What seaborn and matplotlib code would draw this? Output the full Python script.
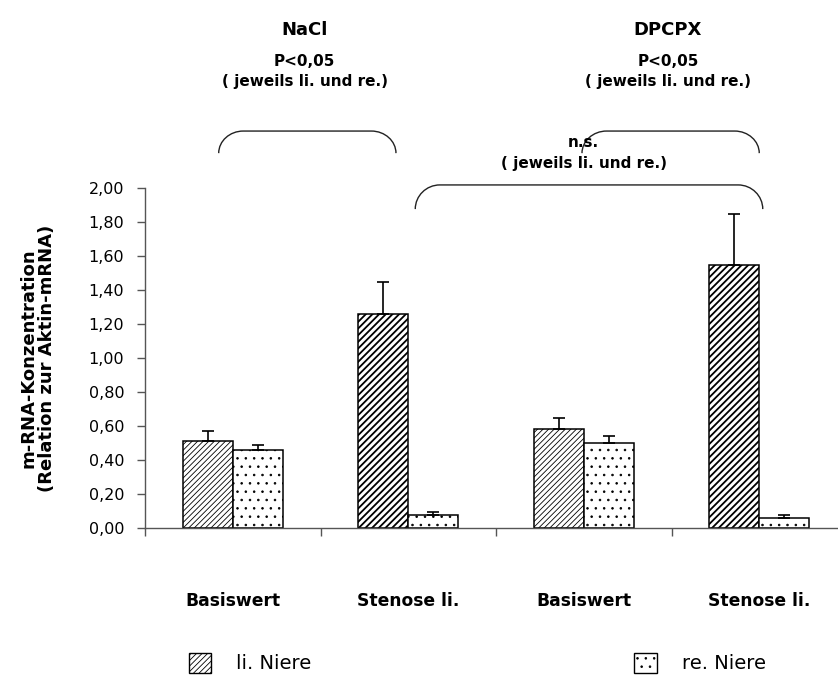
import matplotlib
matplotlib.use("Agg")
import matplotlib.pyplot as plt
from matplotlib.patches import Patch, PathPatch
from matplotlib.path import Path
import pandas as pd
import seaborn as sns

# data
categories = ["NaCl Basiswert", "NaCl Stenose", "DPCPX Basiswert", "DPCPX Stenose"]
tick_labels = ["Basiswert", "Stenose li.", "Basiswert", "Stenose li."]
kidneys = ["li. Niere", "re. Niere"]
li_mean = [0.51, 1.26, 0.58, 1.55]
li_err = [0.06, 0.19, 0.07, 0.30]
re_mean = [0.46, 0.075, 0.50, 0.058]
re_err = [0.03, 0.02, 0.04, 0.02]
yticks = [0.0, 0.2, 0.4, 0.6, 0.8, 1.0, 1.2, 1.4, 1.6, 1.8, 2.0]

df = pd.DataFrame({
    "gruppe": categories * 2,
    "niere": [kidneys[0]] * 4 + [kidneys[1]] * 4,
    "wert": li_mean + re_mean,
    "fehler": li_err + re_err,
})

sns.set_style("ticks")
plt.rcParams["font.family"] = ["DejaVu Sans"]
plt.rcParams["hatch.linewidth"] = 0.6
for key in ["text.color", "axes.labelcolor", "xtick.labelcolor", "ytick.labelcolor"]:
    plt.rcParams[key] = "black"

fig = plt.figure(figsize=(8.38, 6.82), dpi=100)
ax = fig.add_axes([145 / 838, 1 - 528 / 682, 702 / 838, 340 / 682])

sns.barplot(data=df, x="gruppe", y="wert", hue="niere", order=categories,
            hue_order=kidneys, palette=["white", "white"], width=0.57,
            errorbar=None, legend=False, edgecolor="black", linewidth=1.1,
            saturation=1, ax=ax)

hatches = ["//////", ".."]
for cont, h, errs in zip(ax.containers, hatches, [li_err, re_err]):
    xs, ys = [], []
    for i, bar in enumerate(cont):
        bar.set_hatch(h)
        bar.set_facecolor("white")
        if h.startswith("/") and "Stenose" in categories[i]:
            bar.set_hatch("/////")
            if hasattr(bar, "set_hatch_linewidth"):
                bar.set_hatch_linewidth(1.3)
        xs.append(bar.get_x() + bar.get_width() / 2)
        ys.append(bar.get_height())
    ax.errorbar(xs, ys, yerr=[[0] * len(errs), errs], fmt="none",
                ecolor="black", elinewidth=1.2, capsize=4, capthick=1.2,
                zorder=1)

ax.set_xlim(-0.5, 3.5)
ax.set_ylim(0, 2.0)
ax.set_yticks(yticks)
ax.set_yticklabels([f"{v:.2f}".replace(".", ",") for v in yticks], fontsize=11.5)
ax.tick_params(axis="y", length=6, width=1, color="#555", labelcolor="black", pad=9)

ax.set_xticks(range(4))
ax.set_xticklabels(tick_labels, fontsize=12.3, fontweight="bold")
ax.set_xticks([-0.5, 0.5, 1.5, 2.5, 3.5], minor=True)
ax.tick_params(axis="x", which="major", length=0, pad=46, labelcolor="black")
ax.tick_params(axis="x", which="minor", length=6, width=1, color="#555")
ax.set_xlabel("")
ax.set_ylabel("m-RNA-Konzentration\n(Relation zur Aktin-mRNA)",
              fontsize=13, fontweight="bold", linespacing=1.05, labelpad=23)
for s in ["top", "right"]:
    ax.spines[s].set_visible(False)
for s in ["left", "bottom"]:
    ax.spines[s].set_color("#555")
    ax.spines[s].set_linewidth(1)


def bracket(x0, x1, ytop, yend, rx):
    k = 0.55
    ry = ytop - yend
    verts = [(x0, yend), (x0, yend + k * ry), (x0 + rx * (1 - k), ytop), (x0 + rx, ytop),
             (x1 - rx, ytop),
             (x1 - rx * (1 - k), ytop), (x1, yend + k * ry), (x1, yend)]
    codes = [Path.MOVETO, Path.CURVE4, Path.CURVE4, Path.CURVE4, Path.LINETO,
             Path.CURVE4, Path.CURVE4, Path.CURVE4]
    ax.add_patch(PathPatch(Path(verts, codes), fill=False, lw=1, color="#222",
                           clip_on=False))


bracket(-0.08, 0.93, 2.335, 2.205, 0.14)
bracket(1.99, 3.0, 2.335, 2.205, 0.14)
bracket(1.04, 3.02, 2.018, 1.876, 0.14)

txt = dict(ha="center", va="center", fontweight="bold", clip_on=False, color="black")
ax.text(0.41, 2.93, "NaCl", fontsize=13, **txt)
ax.text(2.48, 2.93, "DPCPX", fontsize=13, **txt)
ax.text(0.41, 2.745, "P<0,05", fontsize=11, **txt)
ax.text(0.41, 2.628, "( jeweils li. und re.)", fontsize=11, **txt)
ax.text(2.48, 2.745, "P<0,05", fontsize=11, **txt)
ax.text(2.48, 2.628, "( jeweils li. und re.)", fontsize=11, **txt)
ax.text(2.0, 2.265, "n.s.", fontsize=11, **txt)
ax.text(2.0, 2.147, "( jeweils li. und re.)", fontsize=11, **txt)

handles = [Patch(facecolor="white", edgecolor="black", hatch="//////", lw=1, label=kidneys[0]),
           Patch(facecolor="white", edgecolor="black", hatch="..", lw=1, label=kidneys[1])]
fig.legend(handles=handles, loc="center left", bbox_to_anchor=(179 / 838, 19 / 682),
           ncol=2, frameon=False, fontsize=14, borderpad=0, handlelength=1.15,
           handleheight=1.25, handletextpad=1.3, columnspacing=16.6)

fig.savefig("out.png", dpi=100)
